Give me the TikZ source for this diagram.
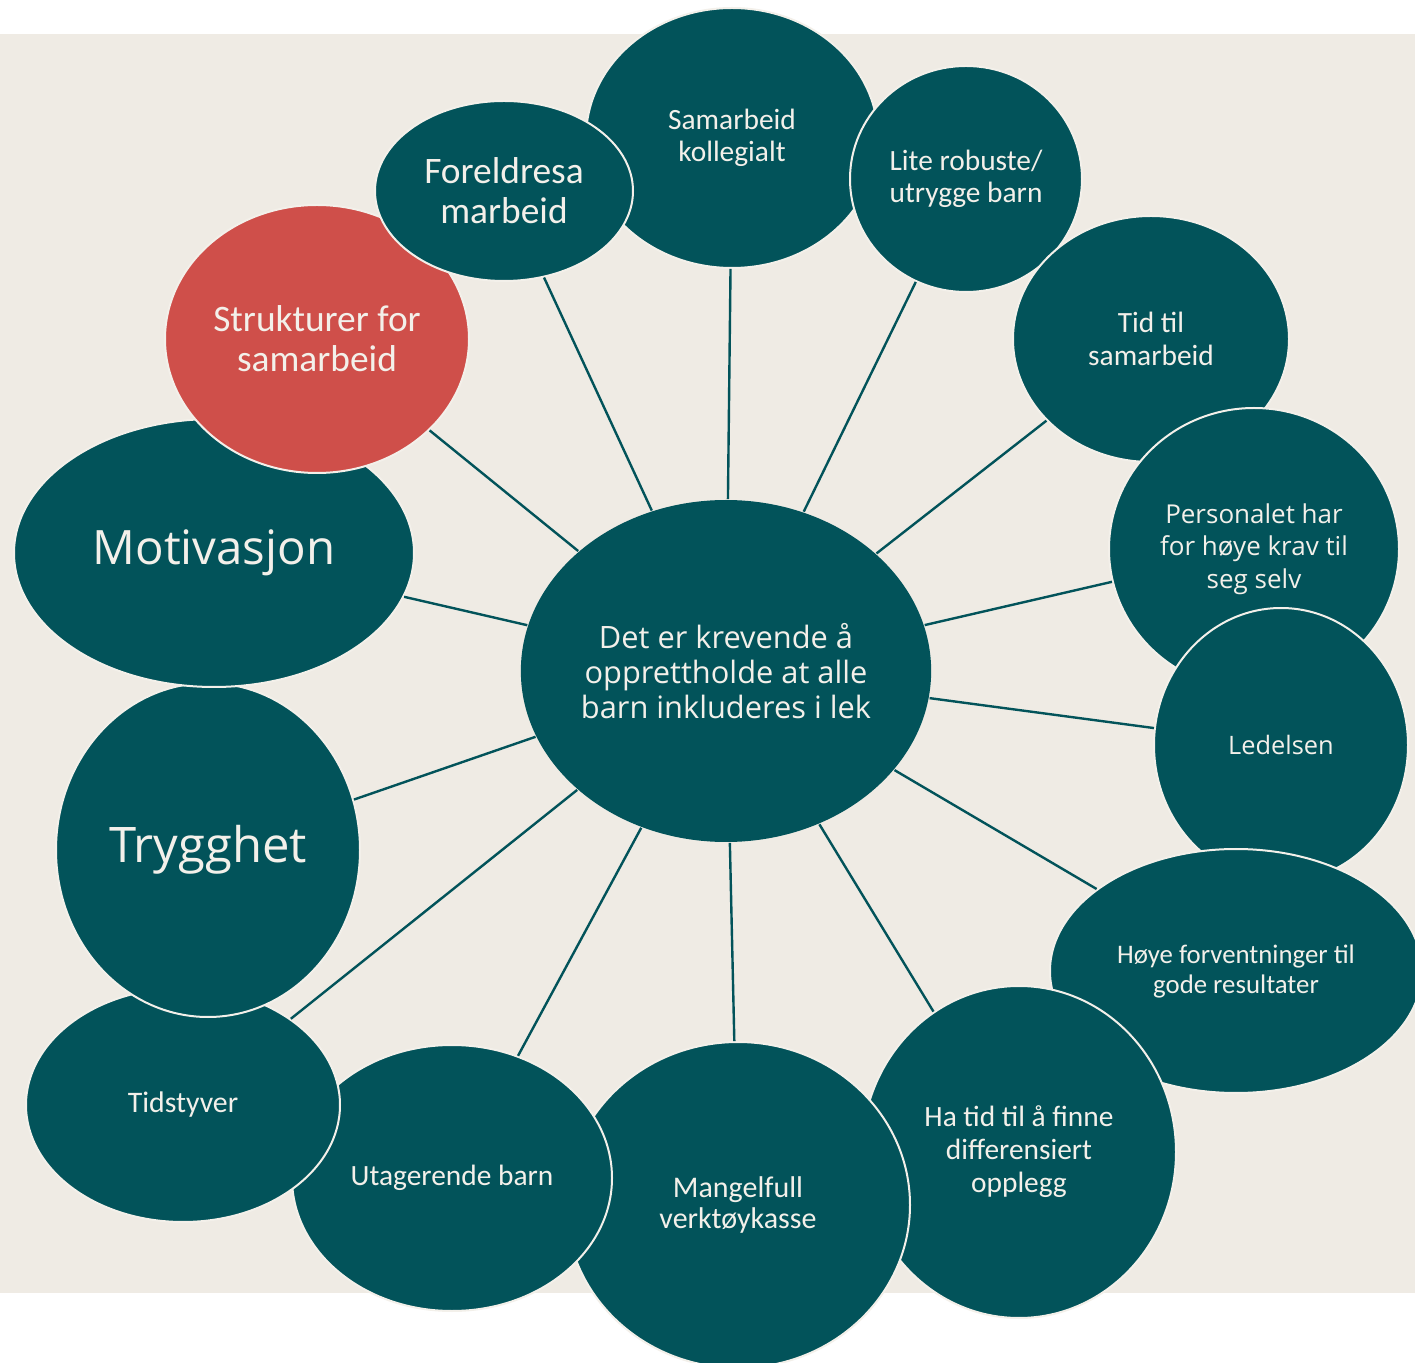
\documentclass[tikz,border=0pt]{standalone}
\usepackage{fontspec}
\setmainfont{Carlito}
\newfontfamily\segoe{Open Sans}
\usepackage{tikz}
\usetikzlibrary{shapes.geometric}

\definecolor{teal}{HTML}{02535A}
\definecolor{tomato}{HTML}{CF4F4A}
\definecolor{sand}{HTML}{EFEBE4}
\definecolor{cream}{HTML}{F3F0EA}

\begin{document}
\begin{tikzpicture}[x=0.5pt,y=-0.5pt]
  \tikzstyle{bubble}=[ellipse,draw=cream,line width=1pt,fill=teal,
  			  text=cream,align=center,inner sep=0pt]
  \tikzstyle{hot}=[bubble,fill=tomato]
  \tikzstyle{spoke}=[draw=teal,line width=1.2pt]

  \useasboundingbox (0,0) rectangle (1415,1363);
  \fill[white] (0,0) rectangle (1415,1363);
  \fill[sand] (0,34) rectangle (1415,1293);

  \node[bubble,minimum width=292pt*0.5,minimum height=260pt*0.5,font=\fontsize{14.7}{16}\selectfont] (kollegialt) at (732,138) {Samarbeid\\kollegialt};
  \node[bubble,minimum width=232pt*0.5,minimum height=226pt*0.5,font=\fontsize{14.7}{16}\selectfont] (robuste) at (966,179) {Lite robuste/\\utrygge barn};
  \node[bubble,minimum width=276pt*0.5,minimum height=246pt*0.5,font=\fontsize{14.7}{16.5}\selectfont] (tidtil) at (1151,339) {Tid til\\samarbeid};
  \node[bubble,minimum width=290pt*0.5,minimum height=282pt*0.5,font=\segoe\fontsize{13}{16.2}\selectfont] (personalet) at (1254,549) {Personalet har\\for høye krav til\\seg selv};
  \node[bubble,minimum width=254pt*0.5,minimum height=274pt*0.5,font=\segoe\fontsize{12.7}{16}\selectfont] (ledelsen) at (1281,745) {Ledelsen};
  \node[bubble,minimum width=372pt*0.5,minimum height=244pt*0.5,font=\fontsize{13.4}{15}\selectfont] (forventning) at (1236,971) {Høye forventninger til\\gode resultater};
  \node[bubble,minimum width=314pt*0.5,minimum height=332pt*0.5,font=\fontsize{14.7}{16.5}\selectfont] (finne) at (1019,1152) {Ha tid til å finne\\differensiert\\opplegg};
  \node[bubble,minimum width=344pt*0.5,minimum height=326pt*0.5,font=\fontsize{15}{16}\selectfont] (verktoy) at (738,1205) {Mangelfull\\verktøykasse};
  \node[bubble,minimum width=320pt*0.5,minimum height=266pt*0.5,font=\fontsize{14.7}{16}\selectfont] (utagerende) at (452,1178) {Utagerende barn};
  \node[bubble,minimum width=314pt*0.5,minimum height=234pt*0.5,font=\fontsize{14.9}{16}\selectfont] (tidstyver) at (183,1105) {Tidstyver};
  \node[bubble,minimum width=304pt*0.5,minimum height=334pt*0.5,font=\segoe\fontsize{24.5}{28}\selectfont] (trygghet) at (208,850) {Trygghet};
  \node[bubble,minimum width=400pt*0.5,minimum height=268pt*0.5,font=\segoe\fontsize{23.7}{26}\selectfont] (motivasjon) at (214,553) {Motivasjon};
  \node[hot,minimum width=304pt*0.5,minimum height=268pt*0.5,font=\fontsize{18.7}{20}\selectfont] (strukturer) at (317,339) {Strukturer for\\samarbeid};
  \node[bubble,minimum width=258pt*0.5,minimum height=180pt*0.5,font=\fontsize{18.7}{20}\selectfont] (foreldre) at (504,191) {Foreldresa\\marbeid};

  \node[bubble,draw=none,minimum width=410pt*0.5,minimum height=342pt*0.5,font=\segoe\fontsize{15.4}{17.5}\selectfont] (krevende) at (726,671) {Det er krevende å\\opprettholde at alle\\barn inkluderes i lek};

  % spokes from the middle
  \foreach \sat in {kollegialt,robuste,tidtil,personalet,ledelsen,forventning,
                    finne,verktoy,utagerende,tidstyver,trygghet,motivasjon,
                    strukturer,foreldre}
    \path[spoke] (krevende) -- (\sat);
\end{tikzpicture}
\end{document}
